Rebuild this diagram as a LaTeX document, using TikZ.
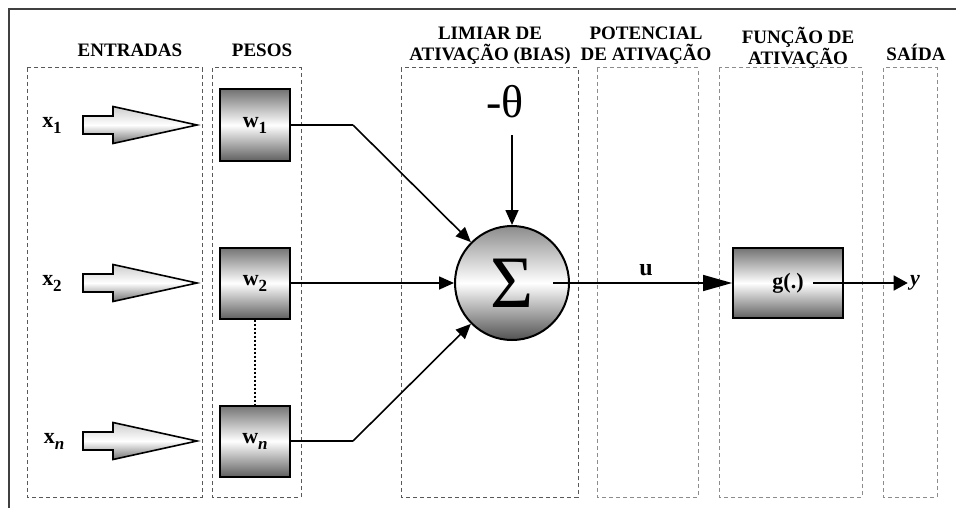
\documentclass[tikz,border=0pt]{standalone}
\usepackage{fontspec}
\setmainfont{Liberation Serif}
\usepackage{tikz}
\usetikzlibrary{arrows.meta, calc}
\newcommand{\lowsub}[1]{\raisebox{-0.6ex}{\fontsize{8.5}{9}\selectfont #1}}

\begin{document}
\begin{tikzpicture}[x=0.5pt,y=-0.5pt,>={Triangle[length=7.5pt,width=6.5pt]},
  hdr/.style={font=\fontsize{9.5}{10.5}\selectfont\bfseries,align=center},
  lbl/.style={font=\fontsize{11}{12}\selectfont\bfseries},
  colbox/.style={line width=0.5pt,dash pattern=on 2pt off 1.5pt},
  inarrow/.style={draw,line width=0.8pt,top color=black!20,bottom color=black!55,middle color=white},
  gbox/.style={draw,line width=1pt,top color=black!55,bottom color=black!62,middle color=white,inner sep=0pt,lbl},
  wire/.style={line width=0.8pt}]
  \useasboundingbox (0,0) rectangle (956,508);
  \draw[black!75,line width=1.2pt] (956,9) -- (9,9) -- (9,508);

  \draw[colbox,black!65] (27,68) rectangle (202,497);
  \draw[colbox,black!65] (212,68) rectangle (301,497);
  \draw[colbox,black!65] (401,68) rectangle (578,497);
  \draw[colbox,black!45] (597,68) rectangle (698,497);
  \draw[colbox,black!45] (719,68) rectangle (862,497);
  \draw[colbox,black!45] (883,68) rectangle (937,497);

  \node[hdr] (hin) at (130,50) {ENTRADAS};
  \node[hdr] (hw) at (262,50) {PESOS};
  \node[hdr] (hb) at (490,46) {LIMIAR DE\\ATIVAÇÃO (BIAS)};
  \node[hdr] (hp) at (646,46) {POTENCIAL\\DE ATIVAÇÃO};
  \node[hdr] (hf) at (798,48) {FUNÇÃO DE\\ATIVAÇÃO};
  \node[hdr] (hs) at (916,52) {SAÍDA};

  \node[lbl] (x1) at (52,125) {x\lowsub{1}};
  \node[lbl] (x2) at (52,283) {x\lowsub{2}};
  \node[lbl] (xn) at (54,441) {x\lowsub{\textit{n}}};
  \draw[inarrow] (83,116) -- (113,116) -- (113,106.5) -- (197,125) -- (113,143.5) -- (113,134) -- (83,134) -- cycle;
  \draw[inarrow] (83,274) -- (113,274) -- (113,264.5) -- (197,283) -- (113,301.5) -- (113,292) -- (83,292) -- cycle;
  \draw[inarrow] (83,432) -- (113,432) -- (113,422.5) -- (197,441) -- (113,459.5) -- (113,450) -- (83,450) -- cycle;

  \node[gbox,minimum width=35pt,minimum height=35.5pt] (w1) at (255,125) {w\lowsub{1}};
  \node[gbox,minimum width=35pt,minimum height=35.5pt] (w2) at (255,283) {w\lowsub{2}};
  \node[gbox,minimum width=35pt,minimum height=35.5pt] (wn) at (255,441) {w\lowsub{\textit{n}}};
  \draw[densely dotted,line width=1pt] (w2) -- (wn);

  \node[circle,draw,line width=1pt,top color=black!45,bottom color=black!68,middle color=white,
        minimum size=57pt,inner sep=0pt,font=\fontsize{37}{37}\selectfont] (sum) at (512,283) {Σ};
  \node[font=\fontsize{23}{23}\selectfont] (theta) at (505,102) {-θ};
  \node[gbox,minimum width=55pt,minimum height=35pt] (g) at (788,283) {g(.)};
  \node[font=\fontsize{12}{12}\selectfont\bfseries] (u) at (646,270) {u};
  \node[font=\fontsize{11}{12}\selectfont\bfseries\itshape,inner sep=1pt] (y) at (915,283) {y};

  \coordinate (bt) at (512,135);
  \coordinate (c1) at (353,125);
  \coordinate (cn) at (353,441);
  \coordinate (s0) at (553,283);
  \coordinate (g0) at (813,283);

  \draw[wire] (w1) -- (c1);
  \draw[wire,->] (c1) -- (sum);
  \draw[wire,->] (w2) -- (sum);
  \draw[wire] (wn) -- (cn);
  \draw[wire,->] (cn) -- (sum);
  \draw[wire,->] (bt) -- (sum);
  \draw[wire,-{Triangle[length=14.5pt,width=8pt]}] (s0) -- (g);
  \draw[wire,-{Triangle[length=7pt,width=7.5pt]}] (g0) -- (y);
\end{tikzpicture}
\end{document}
